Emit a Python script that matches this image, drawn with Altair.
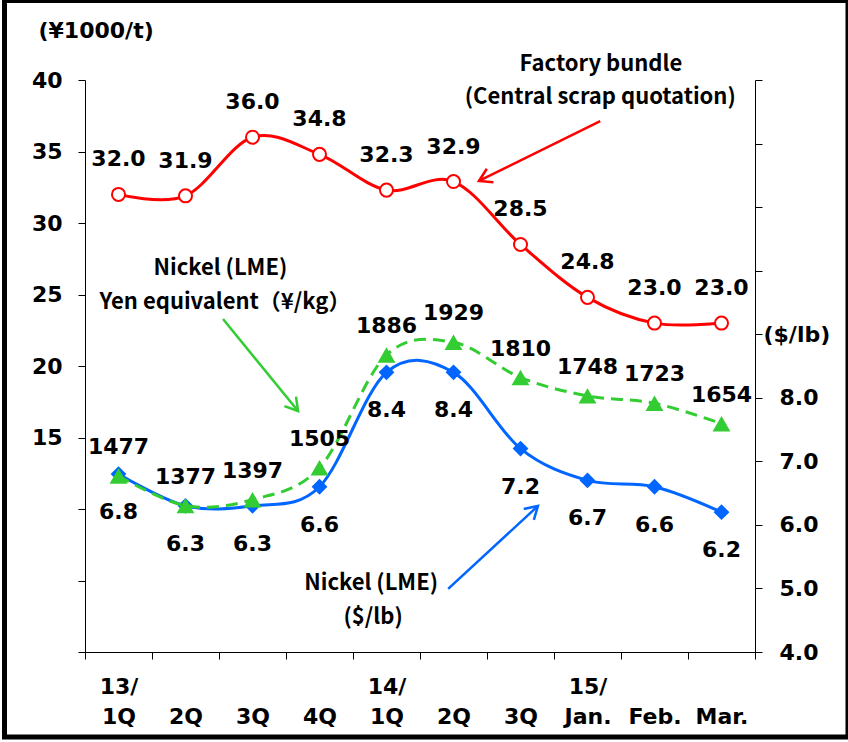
import math
import altair as alt
import pandas as pd

# ---- data -------------------------------------------------------------
periods = ["13/1Q", "13/2Q", "13/3Q", "13/4Q", "14/1Q", "14/2Q", "14/3Q",
           "15/Jan.", "15/Feb.", "15/Mar."]
label_top = ["13/", "", "", "", "14/", "", "", "15/", "", ""]
label_bottom = ["1Q", "2Q", "3Q", "4Q", "1Q", "2Q", "3Q", "Jan.", "Feb.", "Mar."]

# Factory bundle, central scrap quotation (¥1000/t)
factory_bundle = [32.0, 31.9, 36.0, 34.8, 32.3, 32.9, 28.5, 24.8, 23.0, 23.0]
# Nickel (LME), $/lb
nickel_usd = [6.8, 6.3, 6.3, 6.6, 8.4, 8.4, 7.2, 6.7, 6.6, 6.2]
# Nickel (LME), yen equivalent ¥/kg
nickel_yen = [1477, 1377, 1397, 1505, 1886, 1929, 1810, 1748, 1723, 1654]

# annotation texts: (text, x position in period units, y on the ¥1000/t scale)
note_text = ["Factory bundle", "(Central scrap quotation)",
             "Nickel (LME)", "Yen equivalent（¥/kg）",
             "Nickel (LME)", "($/lb)"]
note_x = [7.20, 7.19, 1.52, 1.59, 3.77, 3.80]
note_y = [41.1, 38.8, 26.85, 24.5, 4.83, 2.45]

# arrows: tail -> head, same units as the notes
arrow_x = [7.19, 1.56, 4.92]
arrow_y = [37.13, 23.29, 4.41]
arrow_x2 = [5.38, 2.68, 6.26]
arrow_y2 = [32.94, 16.85, 10.21]
arrow_color = ["#FF0000", "#33CC33", "#0066FF"]

# ---- layout / style ---------------------------------------------------
W, H = 670, 572
X_DOMAIN = [-0.5, 9.5]
YEN_T_DOMAIN = [0, 40]
USD_LB_DOMAIN = [4, 13]
YEN_KG_DOMAIN = [882, 2816]

RED, BLUE, GREEN = "#FF0000", "#0066FF", "#33CC33"
NUM_FONT = "DejaVu Sans"
TXT_FONT = "Noto Sans CJK JP"
FS = 22

df = pd.DataFrame({
    "i": list(range(len(periods))),
    "period": periods,
    "bundle": factory_bundle,
    "usd": nickel_usd,
    "yen": nickel_yen,
})

label_js = "[" + ",".join(f"['{a}','{b}']" for a, b in zip(label_top, label_bottom)) + "]"
x_ticks = [k / 2 - 0.5 for k in range(2 * len(periods) + 1)]

x_axis = alt.Axis(
    values=x_ticks,
    title=None,
    grid=False,
    labelExpr=f"datum.value % 1 === 0 ? {label_js}[datum.value] : ''",
    tickOpacity={"condition": {"test": "datum.value % 1 !== 0", "value": 1}, "value": 0},
    tickSize=7,
    tickColor="black",
    domainColor="black",
    labelColor="black",
    labelFont=NUM_FONT,
    labelFontSize=FS,
    labelFontWeight="bold",
    labelLineHeight=30,
    labelPadding=17,
    labelAngle=0,
    labelOverlap=False,
    labelFlush=False,
)
x_scale = alt.Scale(domain=X_DOMAIN, nice=False, zero=False)
x_enc = alt.X("i:Q", scale=x_scale, axis=x_axis)

left_axis = alt.Axis(
    values=list(range(0, 41, 5)),
    labelExpr="datum.value >= 15 ? datum.label : ''",
    grid=False,
    tickSize=7,
    tickColor="black",
    domainColor="black",
    labelColor="black",
    labelFont=NUM_FONT,
    labelFontSize=FS,
    labelFontWeight="bold",
    labelPadding=16,
    labelOverlap=False,
    title="(¥1000/t)",
    titleAngle=0,
    titleAlign="left",
    titleBaseline="middle",
    titleX=-47,
    titleY=-50,
    titleFont=NUM_FONT,
    titleFontSize=FS,
    titleFontWeight="bold",
    titleColor="black",
)
right_axis = alt.Axis(
    orient="right",
    values=list(range(4, 14)),
    labelExpr="datum.value <= 8 ? format(datum.value, '.1f') : (datum.value === 9 ? '($/lb)' : '')",
    grid=False,
    tickSize=7,
    tickColor="black",
    domainColor="black",
    labelColor="black",
    labelFont=NUM_FONT,
    labelFontSize=FS,
    labelFontWeight="bold",
    labelPadding={"condition": {"test": "datum.value === 9", "value": 1}, "value": 17},
    labelOverlap=False,
    title=None,
)

y_red = alt.Y("bundle:Q", scale=alt.Scale(domain=YEN_T_DOMAIN, nice=False, zero=False), axis=left_axis)
y_blue = alt.Y("usd:Q", scale=alt.Scale(domain=USD_LB_DOMAIN, nice=False, zero=False), axis=right_axis)
y_green = alt.Y("yen:Q", scale=alt.Scale(domain=YEN_KG_DOMAIN, nice=False, zero=False), axis=None)

base = alt.Chart(df)

# Factory bundle (red, open circles)
red = alt.layer(
    base.mark_line(color=RED, strokeWidth=3, interpolate="cardinal").encode(x=x_enc, y=y_red),
    base.mark_point(shape="circle", filled=True, fill="white", stroke=RED, strokeWidth=2,
                    size=170, opacity=1).encode(x=x_enc, y=y_red),
    base.mark_text(dy=-35, font=NUM_FONT, fontSize=FS, fontWeight="bold", color="black").encode(
        x=x_enc, y=y_red, text=alt.Text("bundle:Q", format=".1f")),
)

# Nickel $/lb (blue, diamonds)
blue = alt.layer(
    base.mark_line(color=BLUE, strokeWidth=3, interpolate="cardinal").encode(x=x_enc, y=y_blue),
    base.mark_point(shape="diamond", filled=True, color=BLUE, size=250, opacity=1).encode(x=x_enc, y=y_blue),
    base.mark_text(dy=38, font=NUM_FONT, fontSize=FS, fontWeight="bold", color="black").encode(
        x=x_enc, y=y_blue, text=alt.Text("usd:Q", format=".1f")),
)

# Nickel yen equivalent (green, dashed, triangles)
green = alt.layer(
    base.mark_line(color=GREEN, strokeWidth=3, strokeDash=[12, 7], interpolate="cardinal").encode(
        x=x_enc, y=y_green),
    base.mark_point(shape="triangle-up", filled=True, color=GREEN, size=320, opacity=1).encode(
        x=x_enc, y=y_green),
    base.mark_text(dy=-29, font=NUM_FONT, fontSize=FS, fontWeight="bold", color="black").encode(
        x=x_enc, y=y_green, text=alt.Text("yen:Q", format="d")),
)

# annotations with arrows, placed on the ¥1000/t scale
px_x = W / (X_DOMAIN[1] - X_DOMAIN[0])
px_y = H / (YEN_T_DOMAIN[1] - YEN_T_DOMAIN[0])
angles = [
    math.degrees(math.atan2(-(y2 - y1) * px_y, (x2 - x1) * px_x)) % 360
    for x1, y1, x2, y2 in zip(arrow_x, arrow_y, arrow_x2, arrow_y2)
]
arrows = pd.DataFrame({"x": arrow_x, "y": arrow_y, "x2": arrow_x2, "y2": arrow_y2,
                       "c": arrow_color, "angle": angles})
notes = pd.DataFrame({"t": note_text, "x": note_x, "y": note_y})

note_scale = alt.Scale(domain=YEN_T_DOMAIN, nice=False, zero=False)
nx = alt.X("x:Q", scale=x_scale, axis=x_axis)
chevron = "M -1 -0.6 L 0 0 L -1 0.6"

annot = alt.layer(
    alt.Chart(arrows).mark_rule(strokeWidth=2.5).encode(
        x=nx, y=alt.Y("y:Q", scale=note_scale, axis=None), x2="x2:Q", y2="y2:Q",
        color=alt.Color("c:N", scale=None)),
    alt.Chart(arrows).mark_point(shape=chevron, filled=False, strokeWidth=2.5, size=620, opacity=1).encode(
        x=alt.X("x2:Q", scale=x_scale, axis=x_axis),
        y=alt.Y("y2:Q", scale=note_scale, axis=None),
        angle=alt.Angle("angle:Q", scale=None),
        color=alt.Color("c:N", scale=None)),
    alt.Chart(notes).mark_text(font=TXT_FONT, fontSize=FS, fontWeight="bold", color="black",
                               align="center", baseline="middle").encode(
        x=nx, y=alt.Y("y:Q", scale=note_scale, axis=None), text="t:N"),
)

# outer border around the whole figure
frame = alt.Chart(alt.Data(values=[{"k": 1}])).mark_rect(
    stroke="black", strokeWidth=5, fillOpacity=0).encode(
    x=alt.value(-80.5), x2=alt.value(763), y=alt.value(-79.5), y2=alt.value(657))

chart = alt.layer(red, blue, green, annot, frame).resolve_scale(y="independent").properties(
    width=W, height=H,
    autosize=alt.AutoSizeParams(type="none"),
    padding={"left": 85, "top": 80, "right": 93, "bottom": 90},
    background="white",
).configure_view(stroke=None)

chart.save("out.html", embed_options={"renderer": "svg", "actions": False})
